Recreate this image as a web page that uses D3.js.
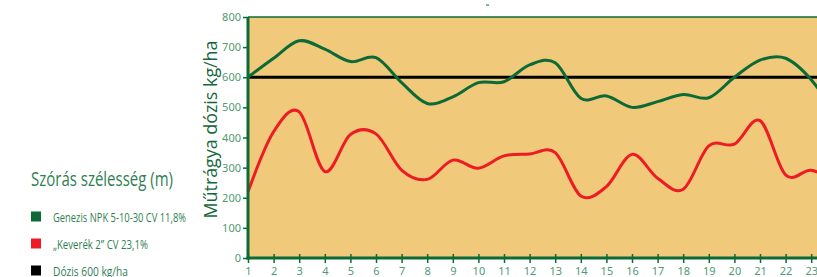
<!DOCTYPE html>
<html>
<head>
    <meta charset="utf-8">
    <title>Műtrágya dózis</title>
    <style>
        * { margin: 0; padding: 0; }
        body { background: #fff; }
        svg { display: block; }
    </style>
    <script src="https://cdn.jsdelivr.net/npm/d3@7"></script>
</head>
<body>
<div id="root"></div>
<script>
    // adatok
    var positions = [1, 2, 3, 4, 5, 6, 7, 8, 9, 10, 11, 12, 13, 14, 15, 16, 17, 18, 19, 20, 21, 22, 23, 24];
    var genezis = [600, 663, 721, 693, 652, 665, 582, 513, 535, 582, 585, 641, 648, 530, 538, 500, 519, 543, 532, 600, 657, 663, 592, 470];
    var keverek = [220, 419, 485, 287, 410, 412, 292, 261, 325, 298, 339, 345, 350, 206, 237, 344, 265, 228, 372, 378, 456, 276, 291, 250];
    var dozis = 600;
    var yTicks = [0, 100, 200, 300, 400, 500, 600, 700, 800];
    var xTicks = [1, 2, 3, 4, 5, 6, 7, 8, 9, 10, 11, 12, 13, 14, 15, 16, 17, 18, 19, 20, 21, 22, 23];
    var legend = [
        { label: "Genezis NPK 5-10-30 CV 11,8%", color: "#0b6a35", len: 133 },
        { label: "„Keverék 2” CV 23,1%", color: "#ed1c24", len: 95 },
        { label: "Dózis 600 kg/ha", color: "#000000", len: 75 }
    ];

    render("#root");

    function render(root) {
        var width = 817, height = 277;
        var plotLeft = 248, plotTop = 17, plotBottom = 258, step = 25.6;

        var svg = d3.select(root).append("svg")
            .attr("width", width).attr("height", height);

        var x = d3.scaleLinear().domain([1, 24]).range([plotLeft, plotLeft + 23 * step]);
        var y = d3.scaleLinear().domain([0, 800]).range([plotBottom, plotTop]);

        // háttér
        svg.append("rect")
            .attr("x", plotLeft).attr("y", plotTop)
            .attr("width", 900 - plotLeft).attr("height", plotBottom - plotTop)
            .attr("fill", "#f1c97b");

        svg.append("line")
            .attr("x1", plotLeft).attr("x2", 900)
            .attr("y1", plotTop).attr("y2", plotTop)
            .attr("stroke", "#0b6a35").attr("stroke-width", 1.5);

        // kis jel fent
        svg.append("rect").attr("x", 486).attr("y", 4.5).attr("width", 3).attr("height", 1.2).attr("fill", "#2f7f52");

        // Y tengely
        var yAxis = d3.axisLeft(y).tickValues(yTicks).tickSize(5).tickPadding(2).tickSizeOuter(0);
        var gy = svg.append("g").attr("transform", "translate(" + plotLeft + ",0)").call(yAxis);
        gy.select(".domain").remove();
        gy.selectAll(".tick line").attr("stroke", "#0b6a35").attr("stroke-width", 1.5);
        gy.selectAll(".tick text")
            .attr("fill", "#4f9a73")
            .style("font-family", "'Noto Sans', sans-serif")
            .style("font-size", "11px");

        // X tengely
        var xAxis = d3.axisBottom(x).tickValues(xTicks).tickSize(5).tickPadding(4).tickSizeOuter(0);
        var gx = svg.append("g").attr("transform", "translate(0," + plotBottom + ")").call(xAxis);
        gx.select(".domain").remove();
        gx.selectAll(".tick line").attr("y1", -4).attr("stroke", "#0b6a35").attr("stroke-width", 1.5);
        gx.selectAll(".tick text")
            .attr("fill", "#4f9a73")
            .style("font-family", "'Noto Sans', sans-serif")
            .style("font-size", "11px");

        // vonalak
        var line = d3.line()
            .x(function (d, i) { return x(positions[i]); })
            .y(function (d) { return y(d); })
            .curve(d3.curveCardinal.tension(0));

        svg.append("line")
            .attr("x1", plotLeft).attr("x2", 900)
            .attr("y1", y(dozis)).attr("y2", y(dozis))
            .attr("stroke", "#000").attr("stroke-width", 3);

        svg.append("path").datum(genezis)
            .attr("d", line).attr("fill", "none")
            .attr("stroke", "#0b6a35").attr("stroke-width", 3);

        svg.append("path").datum(keverek)
            .attr("d", line).attr("fill", "none")
            .attr("stroke", "#ed1c24").attr("stroke-width", 3);

        // tengelyvonalak
        svg.append("line")
            .attr("x1", plotLeft).attr("x2", plotLeft)
            .attr("y1", plotTop).attr("y2", plotBottom + 1.5)
            .attr("stroke", "#0b6a35").attr("stroke-width", 3);
        svg.append("line")
            .attr("x1", plotLeft - 1.5).attr("x2", 900)
            .attr("y1", plotBottom).attr("y2", plotBottom)
            .attr("stroke", "#0b6a35").attr("stroke-width", 3);

        // tengelycím
        svg.append("text")
            .attr("transform", "translate(217," + ((plotTop + plotBottom) / 2 - 8) + ") rotate(-90)")
            .attr("text-anchor", "middle")
            .attr("fill", "#14673a")
            .attr("textLength", 178)
            .attr("lengthAdjust", "spacingAndGlyphs")
            .style("font-family", "'Liberation Sans Narrow', 'Open Sans', sans-serif")
            .style("font-size", "19px")
            .text("Műtrágya dózis kg/ha");

        // jelmagyarázat
        svg.append("text")
            .attr("x", 31).attr("y", 186)
            .attr("fill", "#2f7f52")
            .attr("textLength", 142)
            .attr("lengthAdjust", "spacingAndGlyphs")
            .style("font-family", "'Liberation Sans Narrow', 'Open Sans', sans-serif")
            .style("font-size", "20px")
            .text("Szórás szélesség (m)");

        var items = svg.append("g").selectAll("g").data(legend).enter().append("g")
            .attr("transform", function (d, i) { return "translate(31," + (211.5 + i * 27) + ")"; });
        items.append("rect")
            .attr("width", 10).attr("height", 10)
            .attr("fill", function (d) { return d.color; });
        items.append("text")
            .attr("x", 22).attr("y", 10)
            .attr("fill", "#2f7f52")
            .attr("textLength", function (d) { return d.len; })
            .attr("lengthAdjust", "spacingAndGlyphs")
            .style("font-family", "'Liberation Sans Narrow', 'Open Sans', sans-serif")
            .style("font-size", "13.5px")
            .text(function (d) { return d.label; });
    }
</script>
</body>
</html>
